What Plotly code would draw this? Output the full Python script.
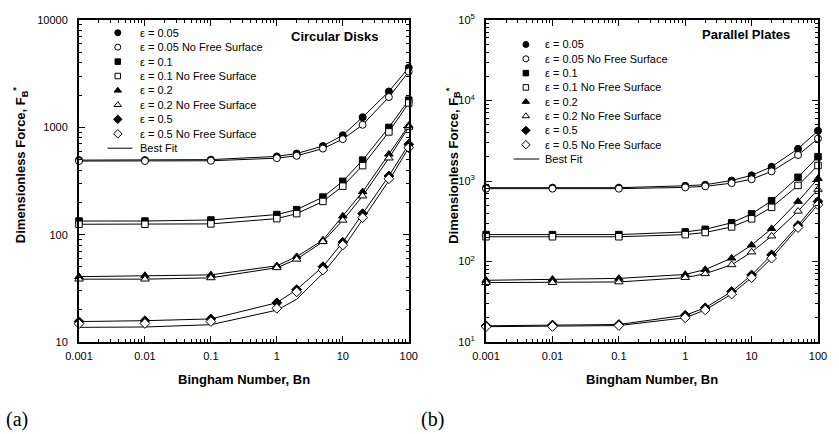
import plotly.graph_objects as go

# ---------------- data ----------------
Bn = [0.001, 0.01, 0.1, 1, 2, 5, 10, 20, 50, 100]

# (a) Circular disks
cd_005 = [495, 495, 500, 536, 570, 670, 844, 1242, 2158, 3594]
cd_005_nfs = [485, 485, 488, 516, 543, 634, 776, 1056, 1914, 3304]
cd_01 = [134, 134, 137, 154, 171, 224, 314, 495, 998, 1790]
cd_01_nfs = [125, 125, 126, 141, 157, 204, 283, 440, 906, 1687]
cd_02 = [40.6, 41.6, 42.2, 51.3, 62.4, 89, 149, 251, 562, 1040]
cd_02_nfs = [38.5, 38.5, 39.6, 49.2, 59, 86, 136, 229, 517, 1000]
cd_05 = [15.5, 15.8, 16.4, 23.2, 30.8, 50.3, 85, 157, 352, 694]
cd_05_nfs = [14.8, 14.9, 15.5, 20.6, 29.3, 46.8, 80, 144, 332, 647]
cd_05_nfs_fit = [13.7, 13.8, 14.5, 19.8, 25.0, 43.6, 74, 138, 318, 647]

# (b) Parallel plates
pp_005 = [826, 826, 826, 873, 899, 1014, 1177, 1502, 2512, 4210]
pp_005_nfs = [803, 803, 803, 833, 858, 940, 1052, 1317, 2104, 3363]
pp_01 = [216, 216, 216, 233, 251, 303, 390, 568, 1112, 2005]
pp_01_nfs = [203, 203, 203, 216, 229, 269, 339, 471, 881, 1559]
pp_02 = [58.4, 60, 61.7, 69, 79.4, 110, 160, 256, 557, 1073]
pp_02_nfs = [54.7, 54.7, 55.7, 63, 70.5, 91, 131, 207, 421, 787]
pp_05 = [15.9, 16.3, 16.5, 21.5, 26.6, 42.4, 68, 121, 281, 557]
pp_05_nfs = [15.5, 15.6, 16.0, 20.0, 25.0, 39.4, 63, 110, 264, 507]

legend_labels = ["ε = 0.05", "ε = 0.05 No Free Surface", "ε = 0.1", "ε = 0.1 No Free Surface",
                 "ε = 0.2", "ε = 0.2 No Free Surface", "ε = 0.5", "ε = 0.5 No Free Surface"]
x_ticks = [0.001, 0.01, 0.1, 1, 10, 100]
x_ticktext = ["0.001", "0.01", "0.1", "1", "10", "100"]
yL_ticks = [10, 100, 1000, 10000]
yL_ticktext = ["10", "100", "1000", "10000"]
yR_ticks = [10, 100, 1000, 10000, 100000]
yR_ticktext = ["10<sup>1</sup>", "10<sup>2</sup>", "10<sup>3</sup>", "10<sup>4</sup>", "10<sup>5</sup>"]

# ---------------- styling ----------------
W, H = 839, 434
ML, MR, MT, MB = 79, 17, 13, 92
PW, PH = W - ML - MR, H - MT - MB
FONT = "Liberation Sans, Arial, sans-serif"


def px(x):
    return (x - ML) / PW


def py(y):
    return (H - MB - y) / PH


symbols = ["circle", "circle", "square", "square", "triangle-up", "triangle-up", "diamond", "diamond"]
sizes = [7, 7, 6.5, 6.5, 7.5, 7.5, 7.5, 7.5]
fills = ["black", "white"] * 4

left_series = [cd_005, cd_005_nfs, cd_01, cd_01_nfs, cd_02, cd_02_nfs, cd_05, cd_05_nfs]
left_fits = [cd_005, cd_005_nfs, cd_01, cd_01_nfs, cd_02, cd_02_nfs, cd_05, cd_05_nfs_fit]
right_series = [pp_005, pp_005_nfs, pp_01, pp_01_nfs, pp_02, pp_02_nfs, pp_05, pp_05_nfs]

fig = go.Figure()

for xa, ya, fits in [("x", "y", left_fits), ("x2", "y2", right_series)]:
    for f in fits:
        fig.add_trace(go.Scatter(x=Bn, y=f, mode="lines", line=dict(color="black", width=1),
                                 xaxis=xa, yaxis=ya, showlegend=False, hoverinfo="skip",
                                 cliponaxis=False))

for xa, ya, ser in [("x", "y", left_series), ("x2", "y2", right_series)]:
    for i, s in enumerate(ser):
        fig.add_trace(go.Scatter(x=Bn, y=s, mode="markers",
                                 marker=dict(symbol=symbols[i], size=sizes[i], color=fills[i],
                                             line=dict(color="black", width=1)),
                                 xaxis=xa, yaxis=ya, showlegend=False, cliponaxis=False))

# ---------------- manual legends ----------------
annotations = []
for (mx, tx, y0, step, lx0, lx1) in [(118, 138, 26, 14.75, 107.7, 132.7),
                                     (528.3, 545.7, 38, 14.63, 516, 541.7)]:
    for i, lab in enumerate(legend_labels):
        yy = y0 + i * step
        fig.add_trace(go.Scatter(x=[px(mx)], y=[py(yy)], mode="markers",
                                 marker=dict(symbol=symbols[i], size=sizes[i] - 1, color=fills[i],
                                             line=dict(color="black", width=1)),
                                 xaxis="x3", yaxis="y3", showlegend=False, hoverinfo="skip"))
        annotations.append(dict(x=px(tx), y=py(yy), xref="paper", yref="paper", text=lab,
                                showarrow=False, xanchor="left", yanchor="middle",
                                font=dict(family=FONT, size=11, color="black")))
    yy = y0 + 8 * step
    fig.add_trace(go.Scatter(x=[px(lx0), px(lx1)], y=[py(yy), py(yy)], mode="lines",
                             line=dict(color="black", width=1),
                             xaxis="x3", yaxis="y3", showlegend=False, hoverinfo="skip"))
    annotations.append(dict(x=px(tx), y=py(yy), xref="paper", yref="paper", text="Best Fit",
                            showarrow=False, xanchor="left", yanchor="middle",
                            font=dict(family=FONT, size=11, color="black")))

# titles inside panels
annotations.append(dict(x=px(335.5), y=py(30), xref="paper", yref="paper", text="<b>Circular Disks</b>",
                        showarrow=False, xanchor="center", yanchor="middle",
                        font=dict(family=FONT, size=13, color="black")))
annotations.append(dict(x=px(749.7), y=py(28), xref="paper", yref="paper", text="<b>Parallel Plates</b>",
                        showarrow=False, xanchor="center", yanchor="middle",
                        font=dict(family=FONT, size=13, color="black")))
# axis titles
for cx in [245, 655]:
    annotations.append(dict(x=px(cx), y=py(380), xref="paper", yref="paper",
                            text="<b>Bingham Number, Bn</b>", showarrow=False,
                            xanchor="center", yanchor="middle",
                            font=dict(family=FONT, size=13, color="black")))
for cx in [20, 455]:
    annotations.append(dict(x=px(cx), y=py(161), xref="paper", yref="paper",
                            text="<b>Dimensionless Force, F<sub>B</sub><sup>*</sup></b>",
                            showarrow=False, textangle=-90, xanchor="center", yanchor="middle",
                            font=dict(family=FONT, size=13, color="black")))
# panel labels
for cx, lab in [(4, "(a)"), (421, "(b)")]:
    annotations.append(dict(x=px(cx), y=py(421), xref="paper", yref="paper", text=lab,
                            showarrow=False, xanchor="left", yanchor="middle",
                            font=dict(family="Liberation Serif, Times New Roman, serif", size=20,
                                      color="black")))


def minor_vals(lo, hi):
    out = []
    for e in range(lo, hi):
        for m in range(2, 10):
            out.append(m * 10 ** e)
    return out


def xaxis_cfg(domain, anchor):
    return dict(type="log", range=[-3, 2], domain=domain, anchor=anchor,
                tickmode="array", tickvals=x_ticks, ticktext=x_ticktext,
                ticks="inside", ticklen=6, tickwidth=1, tickcolor="black",
                showline=True, linewidth=2, linecolor="black", mirror="ticks",
                showgrid=False, zeroline=False, ticklabelstandoff=3,
                tickfont=dict(family=FONT, size=11, color="black"),
                minor=dict(tickvals=minor_vals(-3, 2), ticks="inside", ticklen=3,
                           tickcolor="black", showgrid=False))


def yaxis_cfg(rng, tv, tt, anchor):
    return dict(type="log", range=rng, domain=[0, 1], anchor=anchor,
                tickmode="array", tickvals=tv, ticktext=tt,
                ticks="inside", ticklen=6, tickwidth=1, tickcolor="black",
                showline=True, linewidth=2, linecolor="black", mirror="ticks",
                showgrid=False, zeroline=False, ticklabelstandoff=7,
                tickfont=dict(family=FONT, size=11, color="black"),
                minor=dict(tickvals=minor_vals(rng[0], rng[1]), ticks="inside", ticklen=3,
                           tickcolor="black", showgrid=False))


fig.update_layout(
    width=W, height=H, margin=dict(l=ML, r=MR, t=MT, b=MB),
    paper_bgcolor="white", plot_bgcolor="rgba(0,0,0,0)",
    showlegend=False,
    xaxis=xaxis_cfg([0, px(410.5)], "y"),
    yaxis=yaxis_cfg([1, 4], yL_ticks, yL_ticktext, "x"),
    xaxis2=xaxis_cfg([px(488.3), 1], "y2"),
    yaxis2=yaxis_cfg([1, 5], yR_ticks, yR_ticktext, "x2"),
    xaxis3=dict(domain=[0, 1], range=[0, 1], visible=False, anchor="y3", fixedrange=True),
    yaxis3=dict(domain=[0, 1], range=[0, 1], visible=False, anchor="x3", fixedrange=True),
    annotations=annotations,
    font=dict(family=FONT, color="black"),
)

fig.write_html("out.html")
